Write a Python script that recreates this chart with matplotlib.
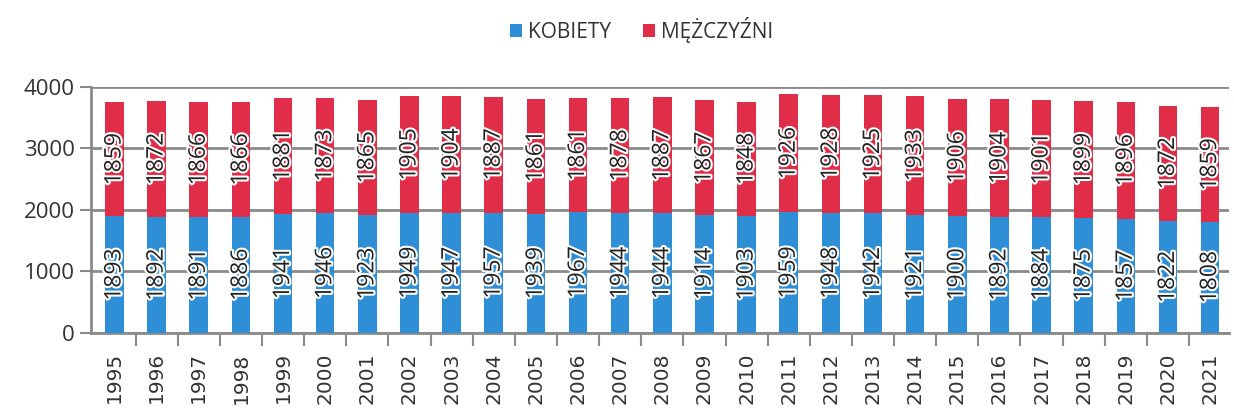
import matplotlib.pyplot as plt
import matplotlib.patheffects as pe
import numpy as np

years = [str(y) for y in range(1995, 2022)]
kobiety = [1893, 1892, 1891, 1886, 1941, 1946, 1923, 1949, 1947, 1957, 1939, 1967, 1944, 1944,
           1914, 1903, 1959, 1948, 1942, 1921, 1900, 1892, 1884, 1875, 1857, 1822, 1808]
mezczyzni = [1859, 1872, 1866, 1866, 1881, 1873, 1865, 1905, 1904, 1887, 1861, 1861, 1878, 1887,
             1867, 1848, 1926, 1928, 1925, 1933, 1906, 1904, 1901, 1899, 1896, 1872, 1859]
series_names = ['KOBIETY', 'MĘŻCZYŹNI']
colors = ['#2f8fd6', '#e02d48']

plt.rcParams['font.family'] = ['Open Sans', 'DejaVu Sans']

fig = plt.figure(figsize=(12.34, 4.12), dpi=100)
ax = fig.add_axes([0.074, 0.192, 0.922, 0.597])

x = np.arange(len(years))
b1 = ax.bar(x, kobiety, width=0.44, color=colors[0], label=series_names[0], zorder=3)
b2 = ax.bar(x, mezczyzni, width=0.44, bottom=kobiety, color=colors[1], label=series_names[1], zorder=3)

# value labels, rotated, centred in each segment
halo = [pe.withStroke(linewidth=3, foreground='white')]
for vals, bottoms in [(kobiety, [0] * len(x)), (mezczyzni, kobiety)]:
    for xi, v, b in zip(x, vals, bottoms):
        ax.text(xi, b + v / 2, str(v), rotation=90, ha='center', va='center',
                fontsize=16.5, color='#222222', path_effects=halo, zorder=4)

ax.set_ylim(0, 4000)
ax.set_xlim(-0.55, len(x) - 0.55)
ax.set_yticks([0, 1000, 2000, 3000, 4000])
ax.grid(axis='y', color='#8a8a8a', lw=2, zorder=0)

ax.set_xticks(x)
ax.set_xticklabels(years, rotation=90, fontsize=14.5, family='DejaVu Sans', color='#333333')
ax.set_xticks(x[:-1] + 0.5, minor=True)
ax.tick_params(axis='x', which='major', length=0, pad=14)
ax.tick_params(axis='x', which='minor', length=9, width=1.5, color='#8a8a8a')
ax.tick_params(axis='y', labelsize=16, length=8, width=1.5, color='#8a8a8a', labelcolor='#333333', pad=4)

for s in ['top', 'right']:
    ax.spines[s].set_visible(False)
for s in ['left', 'bottom']:
    ax.spines[s].set_color('#8a8a8a')
    ax.spines[s].set_linewidth(2)

fig.legend(loc='center', bbox_to_anchor=(0.52, 0.927), ncol=2, frameon=False,
           fontsize=15, handlelength=0.6, handleheight=0.6, handletextpad=0.3, columnspacing=1.5,
           labelcolor='#333333')

fig.savefig('out.png', dpi=100)
